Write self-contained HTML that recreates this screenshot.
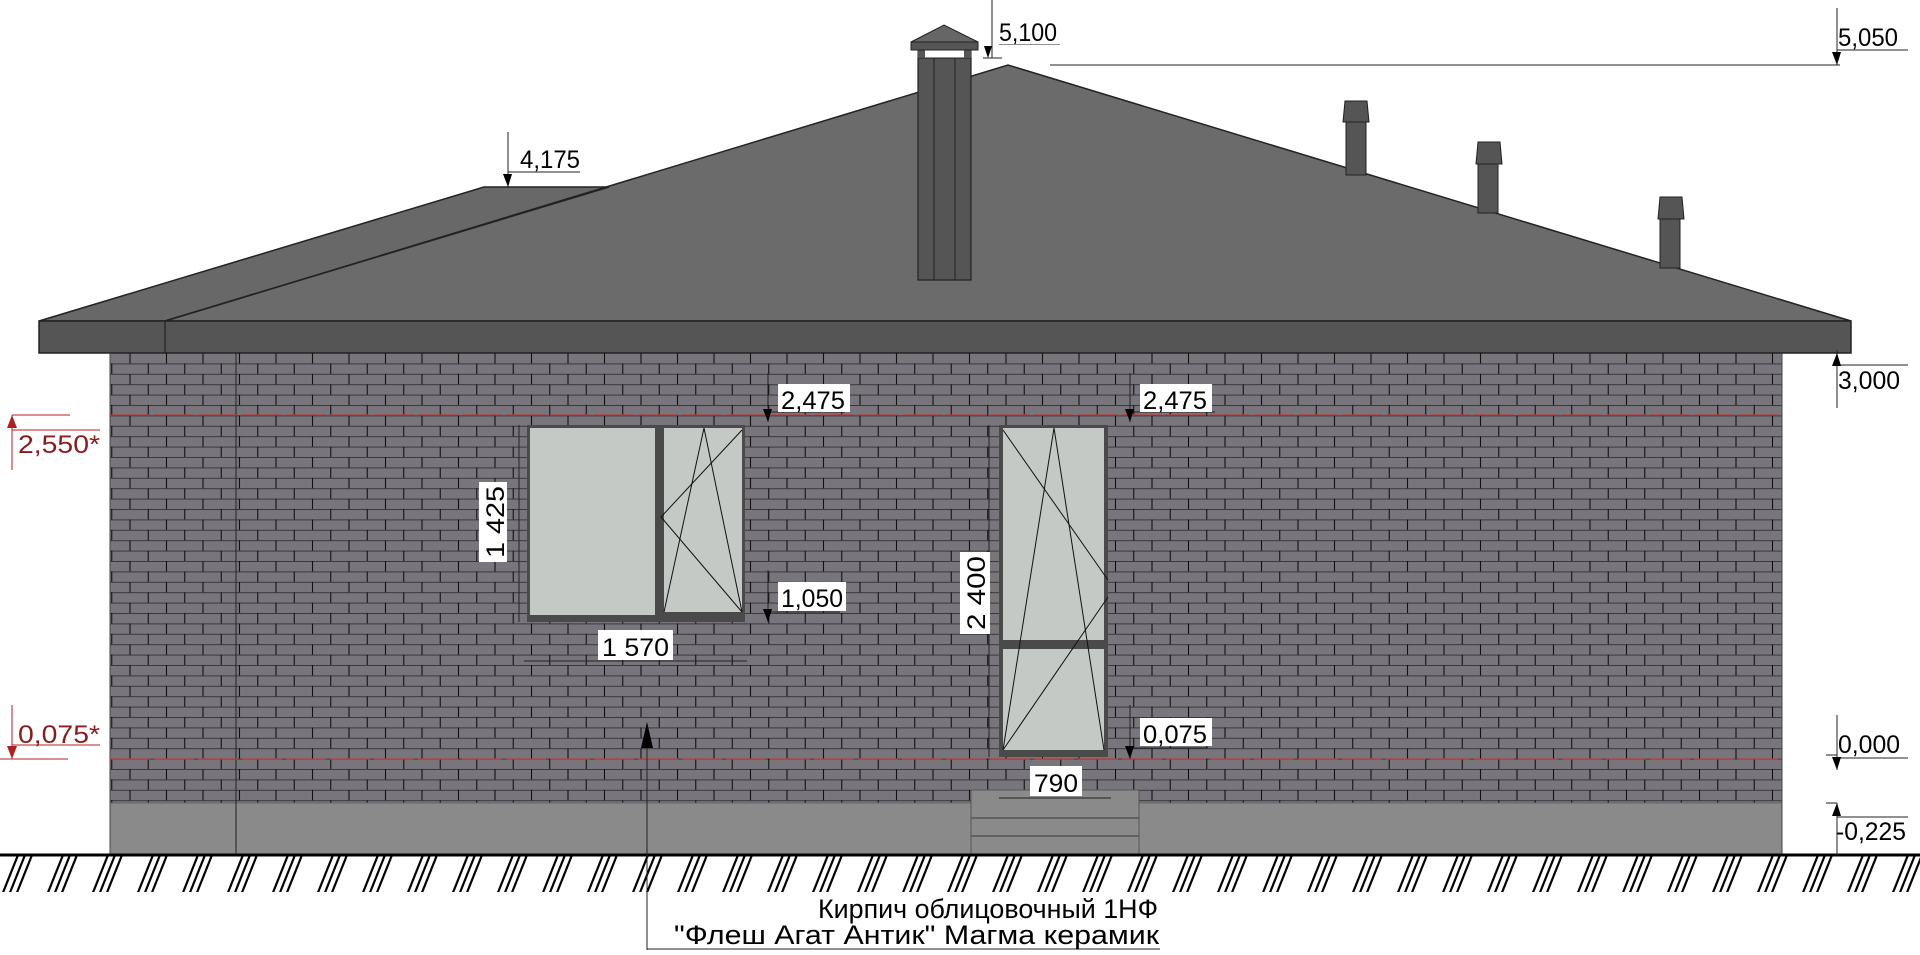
<!DOCTYPE html>
<html><head><meta charset="utf-8"><style>
html,body{margin:0;padding:0;background:#fff;width:1920px;height:955px;overflow:hidden}
svg text{font-family:"Liberation Sans","DejaVu Sans",sans-serif}
</style></head><body>
<svg width="1920" height="955" viewBox="0 0 1920 955" xmlns="http://www.w3.org/2000/svg">
<defs>
<pattern id="br" x="110" y="353" width="73" height="20.8" patternUnits="userSpaceOnUse">
<rect width="73" height="20.8" fill="#78767c"/>
<line x1="0" y1="0.5" x2="73" y2="0.5" stroke="#3a383d" stroke-width="1"/>
<line x1="0" y1="10.9" x2="73" y2="10.9" stroke="#3a383d" stroke-width="1"/>
<line x1="20" y1="0" x2="20" y2="10.4" stroke="#111" stroke-width="1.1"/>
<line x1="56.5" y1="0" x2="56.5" y2="10.4" stroke="#111" stroke-width="1.1"/>
<line x1="1.75" y1="10.4" x2="1.75" y2="20.8" stroke="#111" stroke-width="1.1"/>
<line x1="38.25" y1="10.4" x2="38.25" y2="20.8" stroke="#111" stroke-width="1.1"/>
</pattern>
<pattern id="hatch" x="0" y="855" width="45" height="40" patternUnits="userSpaceOnUse">
<g stroke="#000" stroke-width="2.2">
<line x1="18" y1="0" x2="2" y2="40"/><line x1="25" y1="0" x2="9" y2="40"/><line x1="32" y1="0" x2="16" y2="40"/>
</g>
</pattern>
</defs>

<polygon points="39,321 484,187 609,187 609,321" fill="#686868" stroke="#222" stroke-width="1.5"/>
<polygon points="165,321 1008,65 1851,321" fill="#6b6b6b" stroke="#222" stroke-width="1.5"/>
<line x1="165" y1="321" x2="609" y2="187" stroke="#222" stroke-width="1.5"/>
<rect x="918" y="58" width="53" height="222" fill="#555" stroke="#222" stroke-width="1.2"/>
<line x1="934" y1="58" x2="934" y2="280" stroke="#222"/>
<line x1="955" y1="58" x2="955" y2="280" stroke="#222"/>
<rect x="918" y="50" width="53" height="8" fill="#fff" stroke="#222"/>
<rect x="918" y="50" width="7" height="8" fill="#555"/><rect x="964" y="50" width="7" height="8" fill="#555"/>
<rect x="911" y="42" width="67" height="8" fill="#555" stroke="#222"/>
<polygon points="911,42 944,25 978,42" fill="#666" stroke="#222"/>
<g fill="#555" stroke="#222" stroke-width="1">
<rect x="1346" y="120" width="20" height="55"/><polygon points="1343,122 1345,101 1367,101 1369,122"/>
<rect x="1478" y="163" width="20" height="50"/><polygon points="1476,164 1478,142 1500,142 1502,164"/>
<rect x="1660" y="218" width="20" height="50"/><polygon points="1658,219 1660,197 1682,197 1684,219"/>
</g>
<rect x="39" y="321" width="1812" height="32" fill="#555" stroke="#222" stroke-width="1.5"/>
<line x1="165" y1="321" x2="165" y2="353" stroke="#222" stroke-width="1.2"/>

<rect x="110" y="353" width="1672" height="450" fill="url(#br)"/>
<rect x="110" y="803" width="1672" height="52" fill="#8a8a8a"/>
<line x1="110" y1="803" x2="1782" y2="803" stroke="#666"/>
<line x1="236" y1="353" x2="236" y2="855" stroke="#222"/>
<line x1="1782" y1="353" x2="1782" y2="855" stroke="#444"/>
<line x1="110" y1="353" x2="110" y2="855" stroke="#444"/>
<line x1="110" y1="415" x2="1782" y2="415" stroke="#c0393b" stroke-width="1.2" stroke-dasharray="40,4"/>
<line x1="110" y1="759" x2="1782" y2="759" stroke="#c0393b" stroke-width="1.2" stroke-dasharray="40,4"/>

<rect x="971" y="790" width="168" height="65" fill="#8a8a8a" stroke="#555"/>
<line x1="971" y1="818" x2="1139" y2="818" stroke="#555" stroke-width="1.5"/>
<line x1="971" y1="836" x2="1139" y2="836" stroke="#555" stroke-width="1.5"/>

<rect x="527" y="425" width="218" height="197" fill="#4a4a4a"/>
<rect x="530" y="428" width="125" height="187" fill="#c5c9c5"/>
<rect x="664" y="428" width="78" height="184" fill="#c5c9c5"/>
<g stroke="#111" stroke-width="1" fill="none">
<polyline points="742,430 661,517 742,612"/>
<polyline points="664,612 704,428 742,612"/>
</g>
<rect x="999" y="425" width="109" height="332" fill="#4a4a4a"/>
<rect x="1003" y="428" width="101" height="212" fill="#c5c9c5"/>
<rect x="1003" y="649" width="101" height="101" fill="#c5c9c5"/>
<g stroke="#111" stroke-width="1" fill="none">
<polyline points="1003,750 1054,428 1104,750"/>
<polyline points="1003,430 1108,580"/>
<polyline points="1108,597 1003,750"/>
</g>

<rect x="0" y="856" width="1920" height="36" fill="url(#hatch)"/>
<line x1="0" y1="855" x2="1920" y2="855" stroke="#000" stroke-width="3"/>

<g stroke="#222" stroke-width="1" fill="none">
<line x1="519" y1="425" x2="519" y2="622"/>
<line x1="524" y1="661" x2="747" y2="661"/>
<line x1="989" y1="425" x2="989" y2="757"/>
<line x1="999" y1="798" x2="1111" y2="798"/>
<line x1="992" y1="0" x2="992" y2="58"/><line x1="983" y1="58" x2="1002" y2="58"/>
<line x1="999" y1="44" x2="1060" y2="44"/>
<line x1="1050" y1="65" x2="1840" y2="65"/>
<line x1="1837" y1="8" x2="1837" y2="65"/><line x1="1837" y1="50" x2="1908" y2="50"/>
<line x1="508" y1="132" x2="508" y2="187"/><line x1="508" y1="187" x2="530" y2="187"/><line x1="508" y1="172" x2="580" y2="172"/>
<line x1="768" y1="373" x2="768" y2="422"/><line x1="768" y1="412" x2="845" y2="412"/>
<line x1="1130" y1="373" x2="1130" y2="422"/><line x1="1130" y1="412" x2="1215" y2="412"/>
<line x1="768" y1="570" x2="768" y2="622"/><line x1="768" y1="612" x2="840" y2="612"/>
<line x1="1130" y1="705" x2="1130" y2="759"/><line x1="1130" y1="748" x2="1208" y2="748"/>
<line x1="1837" y1="350" x2="1837" y2="408"/><line x1="1837" y1="365" x2="1908" y2="365"/>
<line x1="1826" y1="755" x2="1837" y2="755"/><line x1="1837" y1="715" x2="1837" y2="770"/><line x1="1837" y1="758" x2="1908" y2="758"/>
<line x1="1826" y1="803" x2="1837" y2="803"/><line x1="1837" y1="803" x2="1837" y2="855"/><line x1="1837" y1="817" x2="1908" y2="817"/>
<line x1="647" y1="725" x2="647" y2="950"/><line x1="647" y1="949" x2="1160" y2="949"/>
</g>
<g stroke="#b02020" stroke-width="1" fill="none">
<line x1="12" y1="415" x2="70" y2="415"/><line x1="12" y1="415" x2="12" y2="470"/><line x1="12" y1="430" x2="100" y2="430"/>
<line x1="0" y1="759" x2="68" y2="759"/><line x1="12" y1="705" x2="12" y2="759"/><line x1="12" y1="745" x2="100" y2="745"/>
</g>
<g fill="#000">
<polygon points="988,58 984,46 992,46"/>
<polygon points="1837,65 1832,52 1841,52"/>
<polygon points="508,187 503,174 512,174"/>
<polygon points="768,422 763,409 772,409"/>
<polygon points="1130,422 1125,409 1134,409"/>
<polygon points="768,622 763,609 772,609"/>
<polygon points="1130,759 1125,746 1134,746"/>
<polygon points="1837,353 1832,366 1841,366"/>
<polygon points="1837,770 1832,757 1841,757"/>
<polygon points="1837,803 1832,816 1841,816"/>
<polygon points="647,722 641,748 653,748"/>
</g>
<polygon points="12,415 7,428 17,428" fill="#b02020"/>
<polygon points="12,759 7,746 17,746" fill="#b02020"/>

<g font-size="25" fill="#000">
<rect x="997" y="16" width="64" height="28" fill="#fff"/><text x="999" y="41" textLength="58" lengthAdjust="spacingAndGlyphs">5,100</text>
<text x="1838" y="46" textLength="60" lengthAdjust="spacingAndGlyphs">5,050</text>
<text x="520" y="168" textLength="60" lengthAdjust="spacingAndGlyphs">4,175</text>
<rect x="778" y="384" width="72" height="28" fill="#fff"/><text x="781" y="409" textLength="64" lengthAdjust="spacingAndGlyphs">2,475</text>
<rect x="1140" y="384" width="72" height="28" fill="#fff"/><text x="1143" y="409" textLength="64" lengthAdjust="spacingAndGlyphs">2,475</text>
<rect x="778" y="582" width="68" height="29" fill="#fff"/><text x="781" y="607" textLength="62" lengthAdjust="spacingAndGlyphs">1,050</text>
<rect x="1140" y="718" width="72" height="28" fill="#fff"/><text x="1143" y="743" textLength="64" lengthAdjust="spacingAndGlyphs">0,075</text>
<rect x="598" y="630" width="75" height="30" fill="#fff"/><text x="602" y="656" textLength="67" lengthAdjust="spacingAndGlyphs">1 570</text>
<rect x="1030" y="766" width="52" height="30" fill="#fff"/><text x="1034" y="792" textLength="44" lengthAdjust="spacingAndGlyphs">790</text>
<text x="1838" y="389" textLength="62" lengthAdjust="spacingAndGlyphs">3,000</text>
<text x="1838" y="753" textLength="62" lengthAdjust="spacingAndGlyphs">0,000</text>
<text x="1836" y="840" textLength="70" lengthAdjust="spacingAndGlyphs">-0,225</text>
<g transform="translate(496,560) rotate(-90)"><rect x="-2" y="-17" width="80" height="28" fill="#fff"/><text x="2" y="8" textLength="72" lengthAdjust="spacingAndGlyphs">1 425</text></g>
<g transform="translate(983,632) rotate(-90)"><rect x="-2" y="-23" width="82" height="30" fill="#fff"/><text x="2" y="2" textLength="74" lengthAdjust="spacingAndGlyphs">2 400</text></g>
</g>
<g font-size="25" fill="#8b1a1a">
<text x="18" y="453" textLength="82" lengthAdjust="spacingAndGlyphs">2,550*</text>
<text x="18" y="743" textLength="82" lengthAdjust="spacingAndGlyphs">0,075*</text>
</g>
<g font-size="27" fill="#000">
<text x="818" y="918" textLength="340" lengthAdjust="spacingAndGlyphs">Кирпич облицовочный 1НФ</text>
<text x="674" y="944" textLength="485" lengthAdjust="spacingAndGlyphs">"Флеш Агат Антик" Магма керамик</text>
</g>
</svg>
</body></html>
